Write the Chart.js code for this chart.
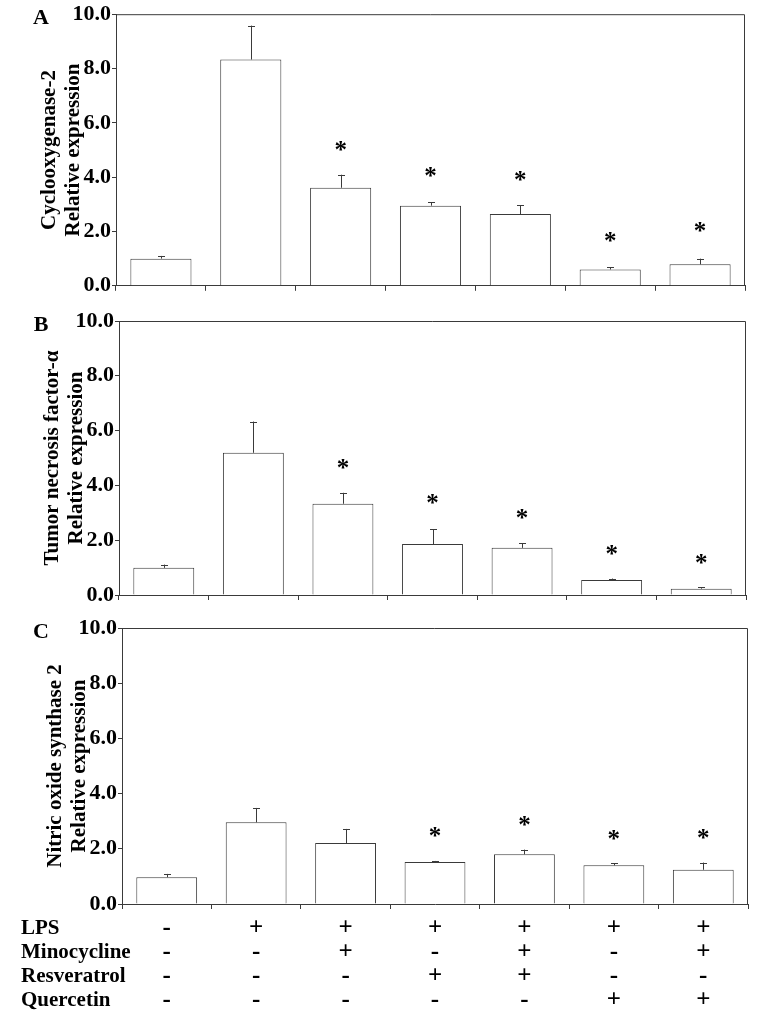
<!DOCTYPE html>
<html>
<head>
<meta charset="utf-8">
<script src="https://cdn.jsdelivr.net/npm/chart.js@4.4.1/dist/chart.umd.min.js"></script>
<style>
  body { margin: 0; background: #fff; width: 767px; height: 1021px; overflow: hidden; position: relative; }
  canvas { position: absolute; left: 0; }
</style>
</head>
<body>
<canvas id="chartA" width="767" height="300" style="top:0px"></canvas>
<canvas id="chartB" width="767" height="310" style="top:300px"></canvas>
<canvas id="chartC" width="767" height="411" style="top:610px"></canvas>
<script>
// Treatment groups (x categories)
const groups = ["Control", "LPS", "LPS+Mino", "LPS+Res", "LPS+Mino+Res", "LPS+Quer", "LPS+Mino+Quer"];

// Y axis tick labels
const yTicks = [0, 2, 4, 6, 8, 10];

// Panel A - Cyclooxygenase-2
const coxValues = [1.0, 8.33, 3.61, 2.95, 2.64, 0.6, 0.79];
const coxErrors = [0.1, 1.25, 0.48, 0.12, 0.32, 0.08, 0.21];
const coxStars = [null, null, 5.0, 4.05, 3.9, 1.65, 2.0];

// Panel B - Tumor necrosis factor-alpha
const tnfValues = [0.99, 5.19, 3.33, 1.86, 1.72, 0.55, 0.23];
const tnfErrors = [0.12, 1.14, 0.40, 0.54, 0.17, 0.05, 0.05];
const tnfStars = [null, null, 4.65, 3.35, 2.8, 1.48, 1.18];

// Panel C - Nitric oxide synthase 2
const nosValues = [0.97, 2.96, 2.21, 1.52, 1.80, 1.40, 1.24];
const nosErrors = [0.12, 0.52, 0.51, 0.04, 0.17, 0.08, 0.26];
const nosStars = [null, null, null, 2.46, 2.88, 2.35, 2.38];

// Treatment table under panel C
const rowLabels = ["LPS", "Minocycline", "Resveratrol", "Quercetin"];
const lpsSigns = ["-", "+", "+", "+", "+", "+", "+"];
const minoSigns = ["-", "-", "+", "-", "+", "-", "+"];
const resSigns = ["-", "-", "-", "+", "+", "-", "-"];
const querSigns = ["-", "-", "-", "-", "-", "+", "+"];

const SERIF = '"Liberation Serif", "Times New Roman", serif';
const INK = "#3a3a3a";

// draws frame, panel letter, error bars, asterisks and the treatment table
const decorPlugin = {
  id: "decor",
  afterDraw(chart, args, opts) {
    const ctx = chart.ctx;
    const area = chart.chartArea;
    const x = chart.scales.x;
    const y = chart.scales.y;
    const meta = chart.getDatasetMeta(0);
    const values = chart.data.datasets[0].data;

    ctx.save();
    // top and right frame
    ctx.strokeStyle = INK;
    ctx.lineWidth = 1;
    ctx.beginPath();
    ctx.moveTo(area.left, area.top + 0.5);
    ctx.lineTo(area.right - 0.5, area.top + 0.5);
    ctx.lineTo(area.right - 0.5, area.bottom);
    ctx.stroke();

    // error bars (upper only)
    meta.data.forEach((bar, i) => {
      const yBar = y.getPixelForValue(values[i]);
      const yTop = y.getPixelForValue(values[i] + opts.errors[i]);
      const cx = Math.round(bar.x) + 0.5;
      ctx.beginPath();
      ctx.moveTo(cx, yBar);
      ctx.lineTo(cx, yTop);
      ctx.moveTo(cx - 3.5, Math.round(yTop) + 0.5);
      ctx.lineTo(cx + 3.5, Math.round(yTop) + 0.5);
      ctx.stroke();
    });

    // significance asterisks
    ctx.fillStyle = "#000";
    ctx.font = "bold 25px " + SERIF;
    ctx.textAlign = "center";
    ctx.textBaseline = "alphabetic";
    opts.stars.forEach((s, i) => {
      if (s == null) return;
      ctx.fillText("*", x.getPixelForValue(i), y.getPixelForValue(s) + 8);
    });

    // panel letter
    ctx.font = "bold 22px " + SERIF;
    ctx.textAlign = "center";
    ctx.textBaseline = "middle";
    ctx.fillText(opts.letter, 41, area.top + 4);

    // treatment table
    if (opts.table) {
      const rows = [lpsSigns, minoSigns, resSigns, querSigns];
      rows.forEach((signs, r) => {
        const ry = area.bottom + 25 + r * 23.7;
        ctx.font = "bold 21px " + SERIF;
        ctx.textAlign = "left";
        ctx.fillText(rowLabels[r], 21, ry);
        ctx.font = "bold 25px " + SERIF;
        ctx.textAlign = "center";
        signs.forEach((sg, i) => {
          ctx.fillText(sg, x.getPixelForValue(i), ry);
        });
      });
    }
    ctx.restore();
  }
};

function makeChart(id, values, errors, stars, title, letter, yWidth, pad, table) {
  return new Chart(document.getElementById(id), {
    type: "bar",
    data: {
      labels: groups,
      datasets: [{
        data: values,
        backgroundColor: "#ffffff",
        borderColor: INK,
        borderWidth: 1,
        categoryPercentage: 1.0,
        barPercentage: 0.68
      }]
    },
    options: {
      responsive: false,
      animation: false,
      devicePixelRatio: 1,
      layout: { padding: pad },
      plugins: {
        legend: { display: false },
        tooltip: { enabled: false },
        decor: { errors: errors, stars: stars, letter: letter, table: table }
      },
      scales: {
        x: {
          type: "category",
          ticks: { display: false },
          grid: { offset: true, drawOnChartArea: false, drawTicks: true, tickLength: 5, color: INK },
          border: { color: INK, width: 1 },
          afterFit: (s) => { s.height = 10; }
        },
        y: {
          min: 0,
          max: 10,
          afterBuildTicks: (s) => { s.ticks = yTicks.map(v => ({ value: v })); },
          ticks: {
            color: "#000",
            padding: 1,
            font: { family: SERIF, size: 22, weight: "bold" },
            callback: (v) => Number(v).toFixed(1)
          },
          grid: { drawOnChartArea: false, drawTicks: true, tickLength: 4, color: INK },
          border: { color: INK, width: 1 },
          title: {
            display: true,
            text: title,
            color: "#000",
            font: { family: SERIF, size: 21, weight: "bold", lineHeight: 1.14 },
            padding: { top: yWidth - 78, bottom: 0 }
          },
          afterFit: (s) => { s.width = yWidth; }
        }
      }
    },
    plugins: [decorPlugin]
  });
}

makeChart("chartA", coxValues, coxErrors, coxStars,
  ["Cyclooxygenase-2", "Relative expression"], "A", 116,
  { left: 0, right: 22, top: 11, bottom: 4 }, false);

makeChart("chartB", tnfValues, tnfErrors, tnfStars,
  ["Tumor necrosis factor-\u03b1", "Relative expression"], "B", 119,
  { left: 0, right: 21, top: 21, bottom: 5 }, false);

makeChart("chartC", nosValues, nosErrors, nosStars,
  ["Nitric oxide synthase 2", "Relative expression"], "C", 122,
  { left: 0, right: 19, top: 18, bottom: 107 }, true);
</script>
</body>
</html>
